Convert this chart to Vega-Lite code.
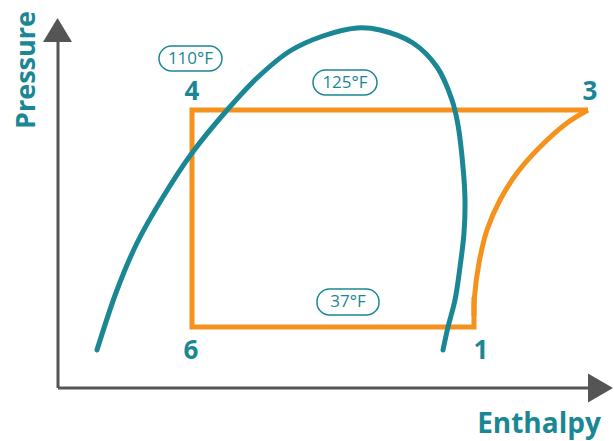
{
  "$schema": "https://vega.github.io/schema/vega-lite/v6.json",
  "width": 614,
  "height": 441,
  "padding": 0,
  "autosize": {"type": "fit", "contains": "padding"},
  "background": "white",
  "config": {"view": {"stroke": null}},
  "datasets": {
    "axes": [
      {"seg": "y", "o": 1, "h": 58, "p": 53},
      {"seg": "y", "o": 2, "h": 58, "p": 401},
      {"seg": "x", "o": 1, "h": 58, "p": 53},
      {"seg": "x", "o": 2, "h": 592, "p": 53}
    ],
    "dome": [
      {"o": 1, "h": 97, "p": 91}, {"o": 2, "h": 117, "p": 151}, {"o": 3, "h": 137, "p": 198},
      {"o": 4, "h": 163, "p": 244}, {"o": 5, "h": 192, "p": 288}, {"o": 6, "h": 228, "p": 332},
      {"o": 7, "h": 257, "p": 363}, {"o": 8, "h": 290, "p": 390}, {"o": 9, "h": 323, "p": 405},
      {"o": 10, "h": 357, "p": 413}, {"o": 11, "h": 380, "p": 411}, {"o": 12, "h": 413, "p": 398},
      {"o": 13, "h": 437, "p": 374}, {"o": 14, "h": 452, "p": 341}, {"o": 15, "h": 458, "p": 316},
      {"o": 16, "h": 463, "p": 274}, {"o": 17, "h": 465, "p": 241}, {"o": 18, "h": 464, "p": 208},
      {"o": 19, "h": 460, "p": 174}, {"o": 20, "h": 455, "p": 141}, {"o": 21, "h": 448, "p": 114},
      {"o": 22, "h": 443, "p": 91}
    ],
    "cycle": [
      {"o": 1, "h": 588, "p": 331}, {"o": 2, "h": 192, "p": 331}, {"o": 3, "h": 192, "p": 114},
      {"o": 4, "h": 474, "p": 114}, {"o": 5, "h": 474, "p": 144}
    ],
    "curve": [
      {"o": 1, "h": 588, "p": 331}, {"o": 2, "h": 567, "p": 318}, {"o": 3, "h": 540, "p": 294},
      {"o": 4, "h": 517, "p": 268}, {"o": 5, "h": 500, "p": 241}, {"o": 6, "h": 487, "p": 211},
      {"o": 7, "h": 479, "p": 178}, {"o": 8, "h": 474.5, "p": 144}, {"o": 9, "h": 474, "p": 125}
    ],
    "boxes": [
      {"t": "110°F", "x1": 159, "x2": 222, "p1": 370, "p2": 395, "h": 190.5, "p": 382.5},
      {"t": "125°F", "x1": 313, "x2": 377, "p1": 346, "p2": 371, "h": 345, "p": 358.5},
      {"t": "37°F", "x1": 317, "x2": 379, "p1": 126, "p2": 152, "h": 348, "p": 139}
    ],
    "nums": [
      {"t": "4", "h": 192, "p": 349},
      {"t": "3", "h": 590, "p": 349},
      {"t": "6", "h": 191, "p": 90},
      {"t": "1", "h": 481, "p": 90}
    ]
  },
  "encoding": {
    "x": {"field": "h", "type": "quantitative", "scale": {"domain": [0, 614], "nice": false, "zero": false}, "axis": null},
    "y": {"field": "p", "type": "quantitative", "scale": {"domain": [0, 441], "nice": false, "zero": false}, "axis": null}
  },
  "layer": [
    {
      "data": {"name": "axes"},
      "mark": {"type": "line", "color": "#555555", "strokeWidth": 3},
      "encoding": {"detail": {"field": "seg"}, "order": {"field": "o"}}
    },
    {
      "data": {"values": [{"h": 57.5, "p": 411}]},
      "mark": {"type": "point", "shape": "M0,-0.83L1,0.83L-1,0.83Z", "size": 841, "filled": true, "color": "#555555", "opacity": 1, "strokeWidth": 0}
    },
    {
      "data": {"values": [{"h": 600.5, "p": 53}]},
      "mark": {"type": "point", "shape": "M0.86,0L-0.86,1L-0.86,-1Z", "size": 841, "filled": true, "color": "#555555", "opacity": 1, "strokeWidth": 0}
    },
    {
      "data": {"name": "curve"},
      "mark": {"type": "line", "color": "#F5921E", "strokeWidth": 5, "interpolate": "catmull-rom"},
      "encoding": {"order": {"field": "o"}}
    },
    {
      "data": {"name": "cycle"},
      "mark": {"type": "line", "color": "#F5921E", "strokeWidth": 5, "strokeJoin": "miter"},
      "encoding": {"order": {"field": "o"}}
    },
    {
      "data": {"name": "dome"},
      "mark": {"type": "line", "color": "#1B8794", "strokeWidth": 5, "strokeCap": "round", "interpolate": "catmull-rom"},
      "encoding": {"order": {"field": "o"}}
    },
    {
      "data": {"name": "boxes"},
      "mark": {"type": "rect", "fill": "white", "stroke": "#1B8794", "strokeWidth": 1.5, "cornerRadius": 12.5},
      "encoding": {
        "x": {"field": "x1", "type": "quantitative"},
        "x2": {"field": "x2"},
        "y": {"field": "p1", "type": "quantitative"},
        "y2": {"field": "p2"}
      }
    },
    {
      "data": {"name": "boxes"},
      "mark": {"type": "text", "font": "Open Sans", "fontSize": 17, "color": "#1B8794", "align": "center", "baseline": "middle"},
      "encoding": {"text": {"field": "t"}}
    },
    {
      "data": {"name": "nums"},
      "mark": {"type": "text", "font": "Open Sans", "fontSize": 26, "fontWeight": "bold", "color": "#1B8794", "align": "center", "baseline": "middle"},
      "encoding": {"text": {"field": "t"}}
    },
    {
      "data": {"values": [{"t": "Pressure", "h": 27, "p": 371}]},
      "mark": {"type": "text", "font": "Open Sans", "fontSize": 27, "fontWeight": "bold", "color": "#1B8794", "align": "center", "baseline": "middle", "angle": 270},
      "encoding": {"text": {"field": "t"}}
    },
    {
      "data": {"values": [{"t": "Enthalpy", "h": 539, "p": 16}]},
      "mark": {"type": "text", "font": "Open Sans", "fontSize": 28, "fontWeight": "bold", "color": "#1B8794", "align": "center", "baseline": "middle"},
      "encoding": {"text": {"field": "t"}}
    }
  ]
}
